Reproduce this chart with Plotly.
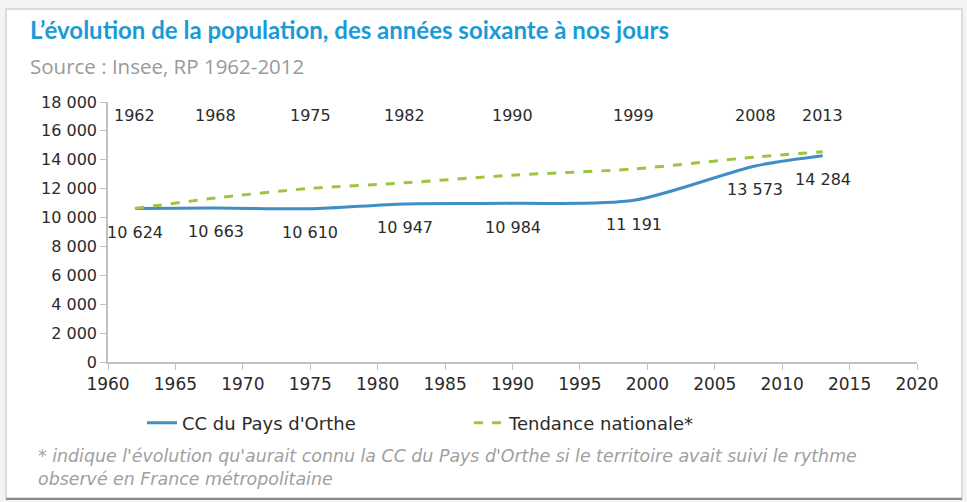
import plotly.graph_objects as go

years = [1962, 1968, 1975, 1982, 1990, 1999, 2008, 2013]
cc_pop = [10624, 10663, 10610, 10947, 10984, 11191, 13573, 14284]
trend_pop = [10624, 11356, 12019, 12407, 12933, 13367, 14190, 14555]
year_labels = [str(y) for y in years]
value_labels = [f"{v:,}".replace(",", " ") for v in cc_pop]

title_text = "L’évolution de la population, des années soixante à nos jours"
subtitle_text = "Source : Insee, RP 1962-2012"
footnote_text = ("* indique l'évolution qu'aurait connu la CC du Pays d'Orthe si le territoire avait suivi le rythme"
                 "<br>observé en France métropolitaine")

L, R, T, B = 108, 50, 102, 140
W, H = 967, 502
PW, PH = W - L - R, H - T - B
TXT = "DejaVu Sans"

def px(xp):
    return (xp - L) / PW

def py(yp):
    return (H - B - yp) / PH

fig = go.Figure()
fig.add_trace(go.Scatter(
    x=years, y=cc_pop, mode="lines", name="CC du Pays d'Orthe",
    line=dict(color="#3d8fc6", width=3, shape="spline", smoothing=0.8),
))
fig.add_trace(go.Scatter(
    x=years, y=trend_pop, mode="lines", name="Tendance nationale*",
    line=dict(color="#9cc641", width=3, dash="dash", shape="spline", smoothing=0.8),
))

annotations = []
for yr, lab in zip(years, year_labels):
    annotations.append(dict(x=yr, y=17100, xref="x", yref="y", text=lab, showarrow=False,
                            font=dict(family=TXT, size=16, color="#2b2b2b"),
                            xanchor="center", yanchor="middle"))
for yr, v, lab in zip(years, cc_pop, value_labels):
    annotations.append(dict(x=yr, y=v, xref="x", yref="y", text=lab, showarrow=False,
                            yshift=-24,
                            font=dict(family=TXT, size=16, color="#2b2b2b"),
                            xanchor="center", yanchor="middle"))

annotations.append(dict(x=px(28), y=py(29), xref="paper", yref="paper", text="<b>" + title_text + "</b>",
                        showarrow=False, xanchor="left", yanchor="middle",
                        font=dict(family="Lato", size=24, color="#1a9bd7")))
annotations.append(dict(x=px(28), y=py(66), xref="paper", yref="paper", text=subtitle_text,
                        showarrow=False, xanchor="left", yanchor="middle",
                        font=dict(family="Open Sans", size=20.5, color="#9a9a9a")))
annotations.append(dict(x=px(36), y=py(468), xref="paper", yref="paper", text="<i>" + footnote_text + "</i>",
                        showarrow=False, xanchor="left", yanchor="middle", align="left",
                        font=dict(family=TXT, size=17.4, color="#a0a0a0")))

shapes = [
    dict(type="rect", xref="paper", yref="paper", x0=px(6), x1=px(962), y0=py(498), y1=py(9),
         line=dict(color="#d2d2d2", width=1.5), fillcolor="white", layer="below"),
    dict(type="line", xref="paper", yref="paper", x0=px(6), x1=px(962), y0=py(499), y1=py(499),
         line=dict(color="#8a8a8a", width=2), layer="below"),
]

fig.update_layout(
    width=W, height=H,
    margin=dict(l=L, r=R, t=T, b=B),
    paper_bgcolor="#f3f3f3", plot_bgcolor="white",
    separators=", ",
    showlegend=True,
    legend=dict(orientation="h", x=px(142), y=py(423), xanchor="left", yanchor="middle",
                entrywidth=282, entrywidthmode="pixels", bgcolor="rgba(0,0,0,0)",
                font=dict(family=TXT, size=18, color="#2b2b2b")),
    xaxis=dict(range=[1960, 2020], tick0=1960, dtick=5, showgrid=False, zeroline=False,
               showline=True, linecolor="#c0c0c0", linewidth=1.5,
               ticks="outside", ticklen=6, tickcolor="#c0c0c0",
               tickfont=dict(family=TXT, size=17, color="#2b2b2b")),
    yaxis=dict(range=[0, 18000], tick0=0, dtick=2000, showgrid=False, zeroline=False,
               showline=True, linecolor="#c0c0c0", linewidth=1.5,
               ticks="outside", ticklen=6, tickcolor="#c0c0c0", tickformat=",d",
               tickfont=dict(family=TXT, size=16, color="#2b2b2b")),
    annotations=annotations,
    shapes=shapes,
)

fig.write_html("out.html", config={"displayModeBar": False},
               post_script="document.body.style.margin='0';document.body.style.overflow='hidden';")
